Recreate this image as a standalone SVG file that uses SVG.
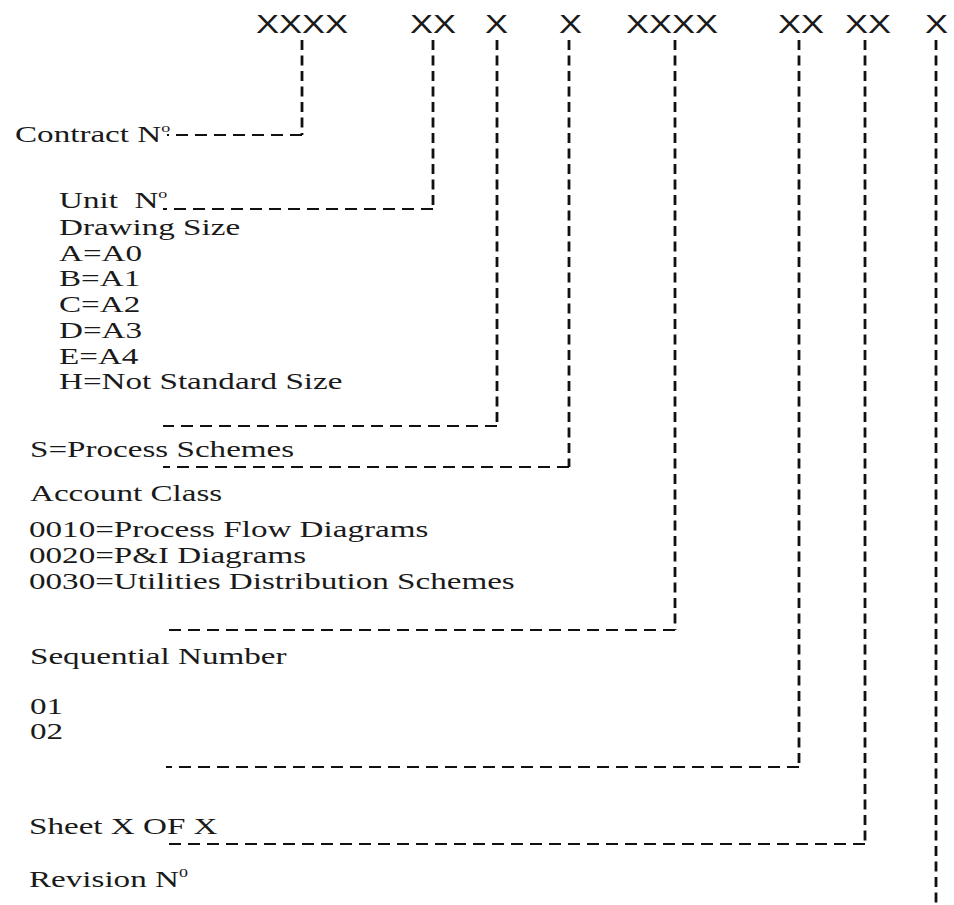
<svg xmlns="http://www.w3.org/2000/svg" width="954" height="905" viewBox="0 0 954 905">
<style>
.code{font-family:"Liberation Sans",Arial,sans-serif;font-size:25px;fill:#1a1a1a}
.lbl{font-family:"Liberation Serif","Times New Roman",serif;font-size:24px;fill:#1a1a1a;white-space:pre}
.sup{font-size:13px}
.v{stroke:#111;stroke-width:2.8;stroke-dasharray:10 5.5;fill:none}
.h{stroke:#111;stroke-width:2;stroke-dasharray:12 7;fill:none}
</style>
<rect width="954" height="905" fill="#fff"/>
<g id="codes">
<g id="code-contract"><text class="code" transform="matrix(1.38 0 0 1 256 33)">XXXX</text></g>
<g id="code-unit"><text class="code" transform="matrix(1.38 0 0 1 410 33)">XX</text></g>
<g id="code-size"><text class="code" transform="matrix(1.38 0 0 1 485 33)">X</text></g>
<g id="code-type"><text class="code" transform="matrix(1.38 0 0 1 559 33)">X</text></g>
<g id="code-class"><text class="code" transform="matrix(1.38 0 0 1 626 33)">XXXX</text></g>
<g id="code-seq"><text class="code" transform="matrix(1.38 0 0 1 778 33)">XX</text></g>
<g id="code-sheet"><text class="code" transform="matrix(1.38 0 0 1 845 33)">XX</text></g>
<g id="code-rev"><text class="code" transform="matrix(1.38 0 0 1 925 33)">X</text></g>
</g>
<g id="connectors">
<path class="v" d="M302 40V135"/><path class="h" d="M302 135H167"/>
<path class="v" d="M433 40V209"/><path class="h" d="M433 209H163"/>
<path class="v" d="M497 40V426"/><path class="h" d="M497 426H163"/>
<path class="v" d="M569 40V467"/><path class="h" d="M569 467H163"/>
<path class="v" d="M675 40V630"/><path class="h" d="M675 630H163"/>
<path class="v" d="M799 40V767"/><path class="h" d="M799 767H166"/>
<path class="v" d="M865 40V844"/><path class="h" d="M865 844H166"/>
<path class="v" d="M936 40V904"/>
</g>
<g id="node-contract"><text class="lbl" transform="matrix(1.38 0 0 1 15 142)">Contract N<tspan class="sup" dy="-10">o</tspan></text></g>
<g id="node-unit"><text class="lbl" transform="matrix(1.38 0 0 1 59 208)">Unit  N<tspan class="sup" dy="-10">o</tspan></text></g>
<g id="node-drawing-size">
<text class="lbl" transform="matrix(1.38 0 0 1 59 235)">Drawing Size</text>
<text class="lbl" transform="matrix(1.38 0 0 1 59 261)">A=A0</text>
<text class="lbl" transform="matrix(1.38 0 0 1 59 286)">B=A1</text>
<text class="lbl" transform="matrix(1.38 0 0 1 59 312)">C=A2</text>
<text class="lbl" transform="matrix(1.38 0 0 1 59 338)">D=A3</text>
<text class="lbl" transform="matrix(1.38 0 0 1 59 364)">E=A4</text>
<text class="lbl" transform="matrix(1.38 0 0 1 59 389)">H=Not Standard Size</text>
</g>
<g id="node-process"><text class="lbl" transform="matrix(1.38 0 0 1 30 457)">S=Process Schemes</text></g>
<g id="node-account">
<text class="lbl" transform="matrix(1.38 0 0 1 30 501)">Account Class</text>
<text class="lbl" transform="matrix(1.38 0 0 1 29 537)">0010=Process Flow Diagrams</text>
<text class="lbl" transform="matrix(1.38 0 0 1 29 563)">0020=P&amp;I Diagrams</text>
<text class="lbl" transform="matrix(1.38 0 0 1 29 589)">0030=Utilities Distribution Schemes</text>
</g>
<g id="node-sequential">
<text class="lbl" transform="matrix(1.38 0 0 1 30 664)">Sequential Number</text>
<text class="lbl" transform="matrix(1.38 0 0 1 30 714)">01</text>
<text class="lbl" transform="matrix(1.38 0 0 1 30 739)">02</text>
</g>
<g id="node-sheet"><text class="lbl" transform="matrix(1.38 0 0 1 29 834)">Sheet X OF X</text></g>
<g id="node-revision"><text class="lbl" transform="matrix(1.38 0 0 1 29 887)">Revision N<tspan class="sup" dy="-10">0</tspan></text></g>
</svg>
